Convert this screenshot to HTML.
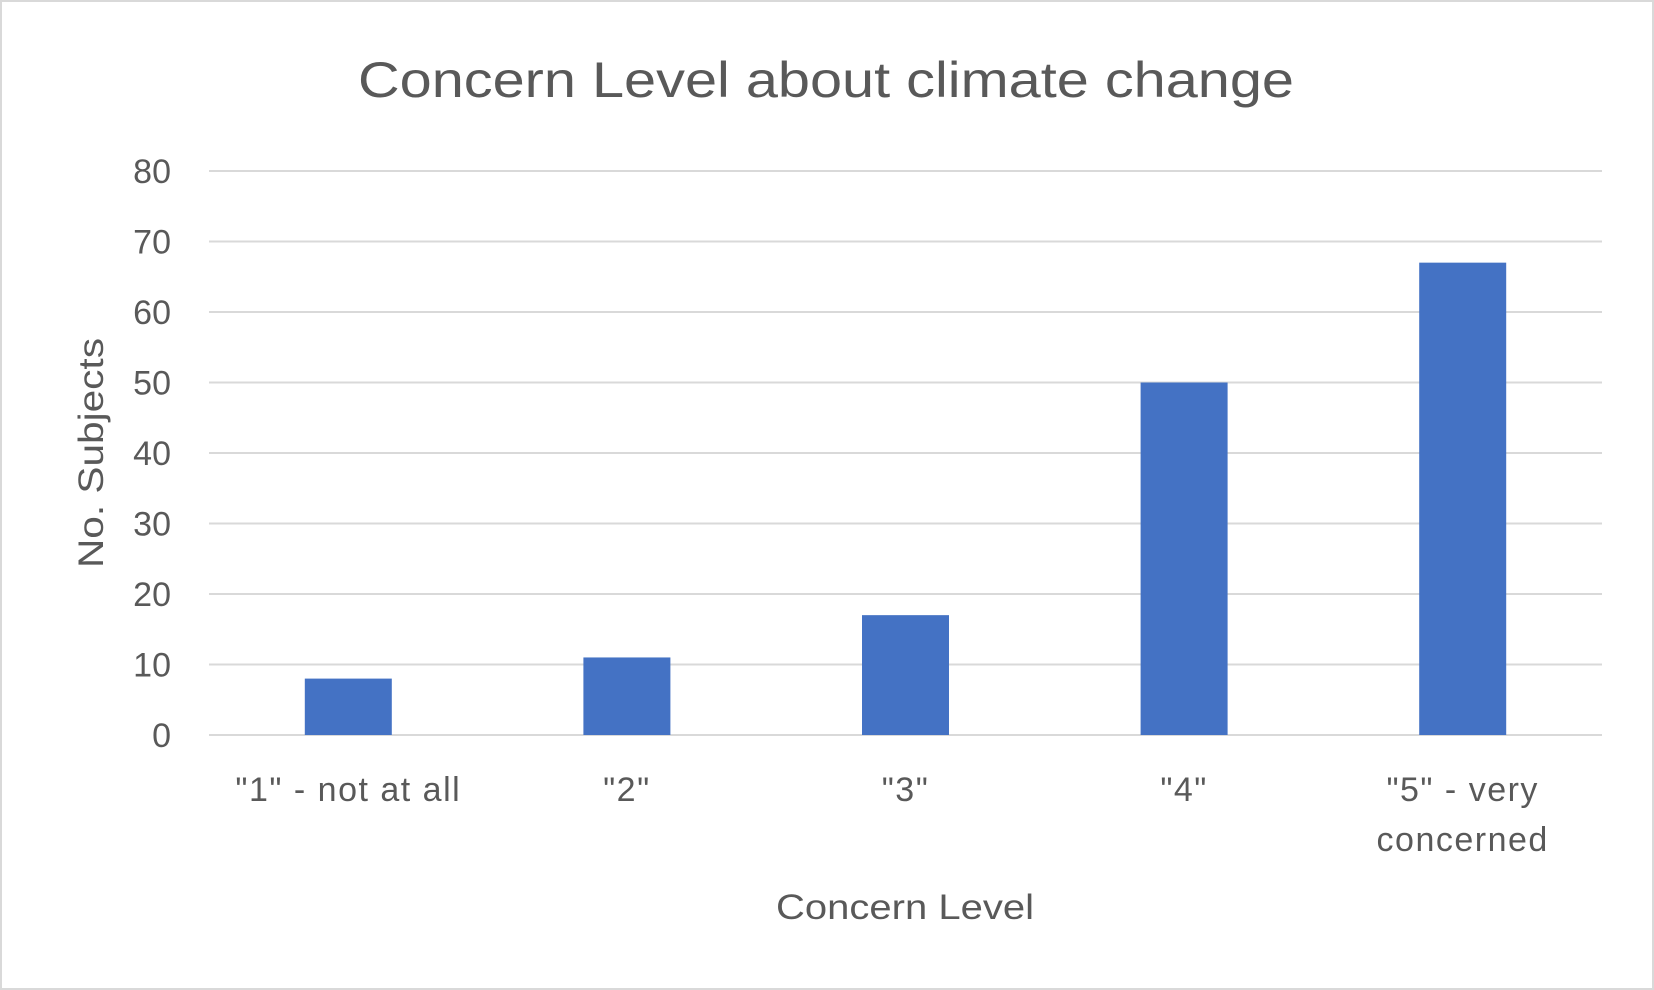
<!DOCTYPE html>
<html><head><meta charset="utf-8"><style>
html,body{margin:0;padding:0;background:#fff;}
svg{display:block;font-family:"Liberation Sans",sans-serif;}
</style></head><body>
<svg id="chart" width="1654" height="990" viewBox="0 0 1654 990">
<rect x="1" y="1" width="1652" height="988" fill="#fff" stroke="#d9d9d9" stroke-width="2"/>
<text x="826" y="97" text-anchor="middle" font-size="50" fill="#595959" textLength="936" lengthAdjust="spacingAndGlyphs">Concern Level about climate change</text>
<g id="grid"></g><g id="bars"></g><g id="ylabels"></g><g id="xlabels"></g>
<text transform="translate(103,453) rotate(-90)" text-anchor="middle" font-size="35" fill="#595959" textLength="230" lengthAdjust="spacingAndGlyphs">No. Subjects</text>
<text x="905" y="919" text-anchor="middle" font-size="35" fill="#595959" textLength="258" lengthAdjust="spacingAndGlyphs">Concern Level</text>
</svg>
<script>
const categories=[['"1" - not at all'],['"2"'],['"3"'],['"4"'],['"5" - very','concerned']];
const values=[8,11,17,50,67];
const yTicks=[0,10,20,30,40,50,60,70,80];
const L=209,R=1602,T=171,B=735,yMax=80;
const ns='http://www.w3.org/2000/svg';
const y=v=>B-(v/yMax)*(B-T);
const bw=(R-L)/categories.length;
const x=i=>L+bw*(i+0.5);
function mk(tag,attrs,parent,txt){const e=document.createElementNS(ns,tag);for(const k in attrs)e.setAttribute(k,attrs[k]);if(txt!==undefined)e.textContent=txt;document.getElementById(parent).appendChild(e);return e;}
yTicks.forEach(t=>{
 const g=mk('line',{x1:L,x2:R,y1:y(t),y2:y(t),stroke:'#d9d9d9','stroke-width':2},'grid');
 
 
 const l=mk('text',{x:171,y:y(t)+12,'text-anchor':'end','font-size':34,fill:'#595959'},'ylabels',String(t));
 
 
});
values.forEach((v,i)=>{
 const w=87;
 const b=mk('rect',{x:x(i)-w/2,y:y(v),width:w,height:B-y(v),fill:'#4472c4'},'bars');
 
 
 categories[i].forEach((line,j)=>{
  const t=mk('text',{x:x(i),y:801+j*50,'text-anchor':'middle','font-size':34,fill:'#595959','letter-spacing':1.5},'xlabels',line);
  
  
 });
});
</script>
</body></html>
